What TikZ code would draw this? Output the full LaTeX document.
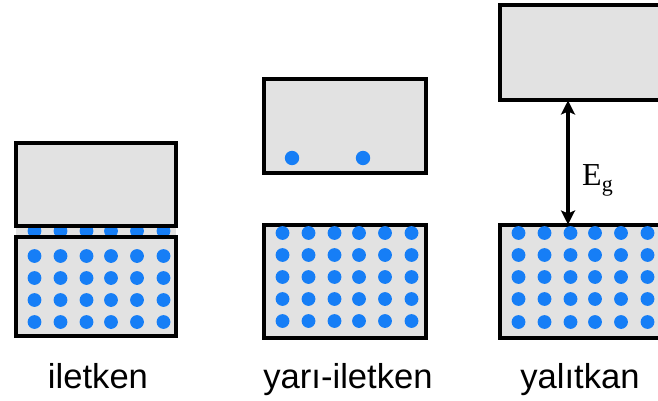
\documentclass[tikz,border=0pt]{standalone}
\usepackage{fontspec}
\setmainfont{Liberation Sans}
\newfontfamily\serifE{Liberation Serif}
\usetikzlibrary{arrows.meta}
\definecolor{bandgray}{RGB}{226,226,226}
\definecolor{electron}{RGB}{22,126,246}
\tikzset{
  band/.style={draw=black, fill=bandgray, line width=4pt, inner sep=0pt, outer sep=0pt,
    rectangle, anchor=north west},
  elec/.style={fill=electron},
  caption/.style={anchor=base, inner sep=0pt, font=\fontsize{34.6}{40}\selectfont},
  gaparrow/.style={line width=3.2pt, {Stealth[length=14pt,width=14pt,inset=3pt]}-{Stealth[length=14pt,width=14pt,inset=3pt]}}
}
\newcommand{\dotrow}[2]{% #1 = left edge of band, #2 = row height
  \foreach \dx in {18.5,44.5,70.5,95,121,147.5}{\fill[elec] (#1+\dx,#2) circle (6.9);}}
\begin{document}
\begin{tikzpicture}[x=1pt,y=-1pt]
\useasboundingbox (0,0) rectangle (658,401);
\clip (0,0) rectangle (658,401);

% --- iletken: overlapping bands
\fill[bandgray] (16,142.5) rectangle (176,336);
\dotrow{16}{231}
\foreach \yy in {256,278,300,322}{\dotrow{16}{\yy}}
\node[band, minimum width=160pt, minimum height=83pt, fill=none] (atop) at (16,142.5) {};
\node[band, minimum width=160pt, minimum height=99pt, fill=none] (abot) at (16,237) {};

% --- yari-iletken: small gap, two excited electrons
\node[band, minimum width=161.5pt, minimum height=93.5pt] (btop) at (264,79.5) {};
\fill[elec] (292,158) circle (7.2);
\fill[elec] (363,158) circle (7.2);
\node[band, minimum width=161.5pt, minimum height=113pt] (bbot) at (264,224.5) {};
\foreach \yy in {233,255,277,299,321}{\dotrow{264}{\yy}}

% --- yalitkan: wide gap
\node[band, minimum width=170pt, minimum height=95pt] (ctop) at (500,5.5) {};
\node[band, minimum width=170pt, minimum height=113pt] (cbot) at (500,224.5) {};
\foreach \yy in {233,255,277,299,322}{\dotrow{500}{\yy}}
\coordinate (gx) at (568,0);
\draw[gaparrow] (gx |- ctop.south) -- (gx |- cbot.north);
\node[anchor=base west, inner sep=0pt] (eg) at (582,185)
  {\serifE\fontsize{32}{34}\selectfont E\raisebox{-6pt}{\fontsize{22}{22}\selectfont g}};

% --- captions
\node[caption] (l1) at (98,388) {iletken};
\node[caption] (l2) at (348,388) {yarı-iletken};
\node[caption] (l3) at (580,388) {yalıtkan};
\end{tikzpicture}
\end{document}
